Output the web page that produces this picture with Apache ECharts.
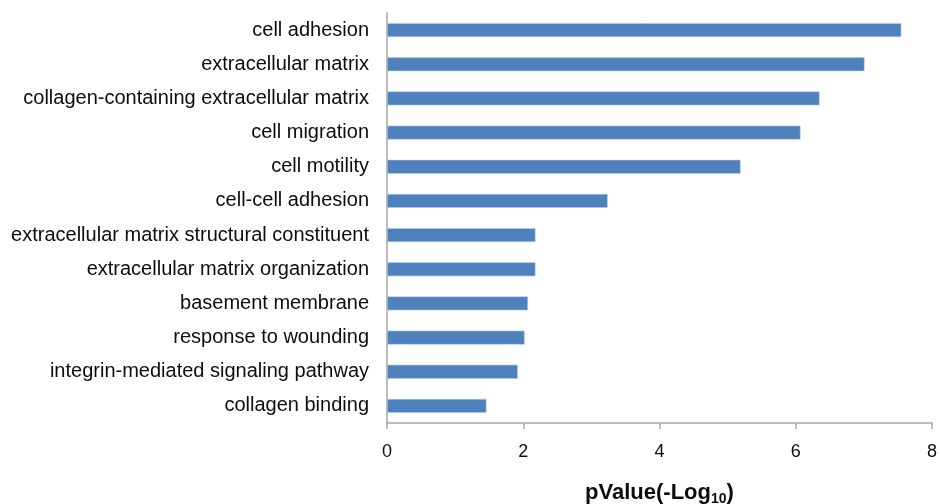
<!DOCTYPE html>
<html>
<head>
<meta charset="utf-8">
<script src="https://cdn.jsdelivr.net/npm/echarts@6/dist/echarts.min.js"></script>
<style>
  html, body { margin: 0; padding: 0; background: #ffffff; }
  #chart { width: 940px; height: 504px; }
</style>
</head>
<body>
<div id="chart"></div>
<script>
// GO enrichment terms, top to bottom
const terms = [
  'cell adhesion',
  'extracellular matrix',
  'collagen-containing extracellular matrix',
  'cell migration',
  'cell motility',
  'cell-cell adhesion',
  'extracellular matrix structural constituent',
  'extracellular matrix organization',
  'basement membrane',
  'response to wounding',
  'integrin-mediated signaling pathway',
  'collagen binding'
];

// -log10(p) for each term
const negLogP = [7.55, 7.01, 6.35, 6.07, 5.19, 3.24, 2.18, 2.18, 2.07, 2.02, 1.92, 1.46];

// x axis range and step
const xMin = 0;
const xMax = 8;
const xStep = 2;

const FONT = '"Liberation Sans", Arial, sans-serif';
const AXIS_GRAY = '#a6a6a6';
const TEXT = '#0d0d0d';

const chart = echarts.init(document.getElementById('chart'), null, { renderer: 'canvas' });

chart.setOption({
  animation: false,
  backgroundColor: '#ffffff',
  grid: { left: 387, right: 8, top: 13, bottom: 81, containLabel: false, outerBoundsMode: 'none' },
  xAxis: {
    type: 'value',
    min: xMin,
    max: xMax,
    interval: xStep,
    axisLine: { show: true, lineStyle: { color: AXIS_GRAY, width: 1.5 } },
    axisTick: { show: true, inside: false, length: 6, lineStyle: { color: AXIS_GRAY, width: 1.5 } },
    splitLine: { show: false },
    axisLabel: { color: TEXT, fontFamily: FONT, fontSize: 18, margin: 20 },
    name: '{t|pValue(-Log}{s|10}{t|)}',
    nameLocation: 'middle',
    nameGap: 57,
    nameTextStyle: {
      rich: {
        t: { fontFamily: FONT, fontSize: 22, fontWeight: 'bold', color: TEXT, lineHeight: 26 },
        s: { fontFamily: FONT, fontSize: 14, fontWeight: 'bold', color: TEXT, verticalAlign: 'bottom', padding: [10, 0, 0, 0], lineHeight: 26 }
      }
    }
  },
  yAxis: {
    type: 'category',
    data: terms,
    inverse: true,
    axisLine: { show: true, lineStyle: { color: AXIS_GRAY, width: 1.5 } },
    axisTick: { show: false },
    splitLine: { show: false },
    axisLabel: { color: TEXT, fontFamily: FONT, fontSize: 20, margin: 18 }
  },
  series: [{
    type: 'bar',
    data: negLogP,
    barWidth: 14,
    itemStyle: { color: '#4f81bd', borderColor: '#b9cde5', borderWidth: 0.6 }
  }]
});
</script>
</body>
</html>
